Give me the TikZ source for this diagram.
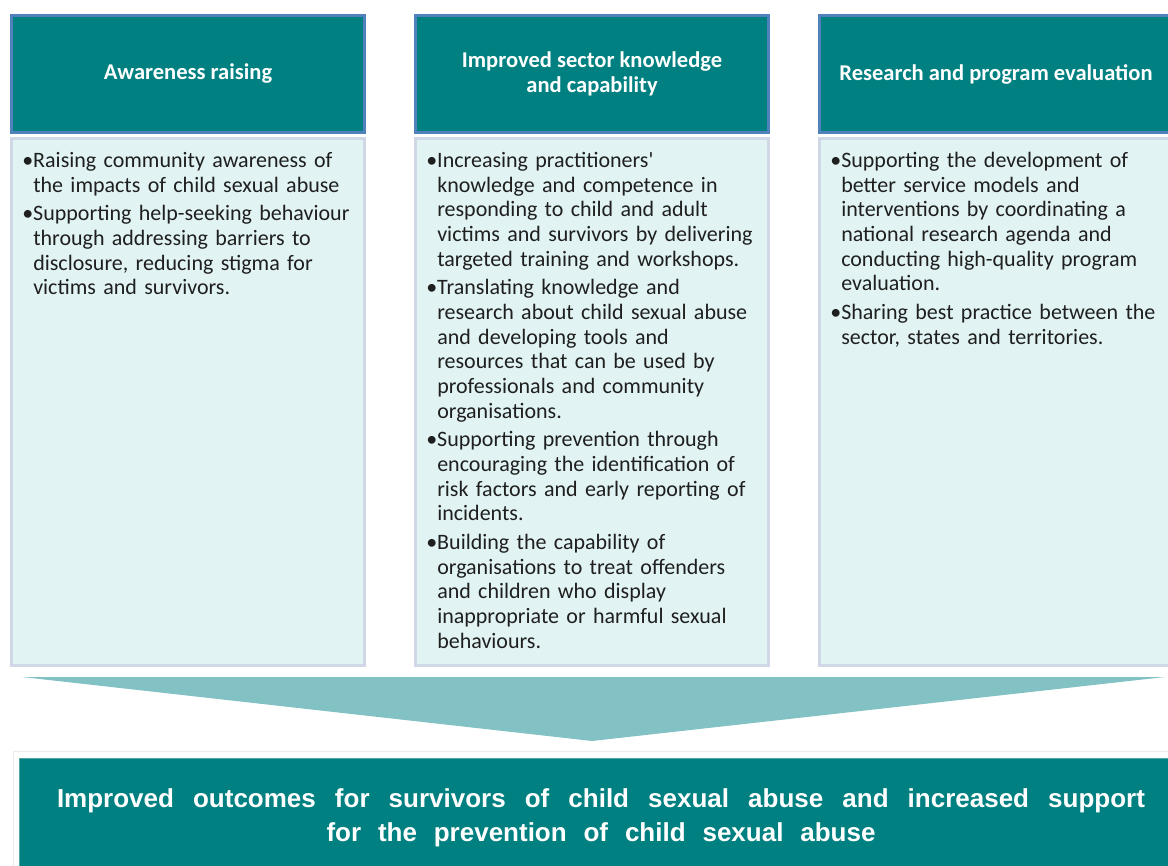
\documentclass[tikz,border=0pt]{standalone}
\usepackage{fontspec}
\setmainfont{Carlito}
\newfontfamily\outcomefont{Liberation Sans}
\usetikzlibrary{positioning}

\definecolor{headfill}{RGB}{0,128,128}
\definecolor{headline}{RGB}{79,129,189}
\definecolor{listfill}{RGB}{225,243,243}
\definecolor{listline}{RGB}{208,216,232}
\definecolor{funnel}{RGB}{130,193,196}

% bullet with hanging indent
\newcommand{\bul}{\par\noindent\hangindent=8.25pt\hangafter=1\makebox[8.25pt][l]{\textbullet}\strut}

\tikzset{
    head/.style={draw=headline, fill=headfill, line width=2.25pt, minimum width=264.75pt, minimum height=87.75pt, text=white, align=center, font=\bfseries\fontsize{16.9}{18.75}\selectfont},
    list/.style={draw=listline, fill=listfill, line width=2.25pt, minimum width=264.75pt, minimum height=395.25pt},
    items/.style={anchor=north west, inner sep=0pt, text width=262pt, text=black!88, font={\fontsize{16.5}{18.5}\selectfont\raggedright\setlength{\parskip}{3pt}}},
    outcome/.style={fill=headfill, draw=headfill!70!white, line width=0.75pt, minimum width=872.25pt, minimum height=88.5pt, text=white, align=center, font=\outcomefont\bfseries\fontsize{19.5}{25.5}\selectfont}
}

\begin{document}
\begin{tikzpicture}[x=0.75pt, y=-0.75pt]
        \useasboundingbox (0, 0) rectangle (1168, 866);
        \clip (0, 0) rectangle (1168, 866);

        \node[head] (h1) at (188, 74) {Awareness raising};
        \node[head] (h2) at (592, 74) {Improved sector knowledge\\and capability};
        \node[head] (h3) at (996, 74) {Research and program evaluation};

        \node[list] (b1) at (188, 402) {};
        \node[list] (b2) at (592, 402) {};
        \node[list] (b3) at (996, 402) {};

        \node[items] (t1) at (22, 138.5) {%
            \bul Raising community awareness of\newline the impacts of child sexual abuse
            \bul Supporting help-seeking behaviour\newline through addressing barriers to\newline disclosure, reducing stigma for\newline victims and survivors.\par};
        \node[items] (t2) at (426, 138.5) {%
            \bul Increasing practitioners\textquotesingle\newline knowledge and competence in\newline responding to child and adult\newline victims and survivors by delivering\newline targeted training and workshops.
            \bul Translating knowledge and\newline research about child sexual abuse\newline and developing tools and\newline resources that can be used by\newline professionals and community\newline organisations.
            \bul Supporting prevention through\newline encouraging the identification of\newline risk factors and early reporting of\newline incidents.
            \bul Building the capability of\newline organisations to treat offenders\newline and children who display\newline inappropriate or harmful sexual\newline behaviours.\par};
        \node[items] (t3) at (830, 138.5) {%
            \bul Supporting the development of\newline better service models and\newline interventions by coordinating a\newline national research agenda and\newline conducting high-quality program\newline evaluation.
            \bul Sharing best practice between the\newline sector, states and territories.\par};

        % funnel down to the outcome
        \coordinate (fl) at (22, 677);
        \coordinate (fr) at (1165, 677);
        \coordinate (tip) at (592, 741);
        \fill[funnel] (fl) -- (fr) -- (tip) -- cycle;

        \draw[black!8, line width=0.75pt] (13.5, 751.5) rectangle (1190, 890);
        \node[outcome] (out) at (601, 817.5) {\makebox[816pt][s]{Improved outcomes for survivors of child sexual abuse and increased support}\\\makebox[411.75pt][s]{for the prevention of child sexual abuse}};
    \end{tikzpicture}
\end{document}
